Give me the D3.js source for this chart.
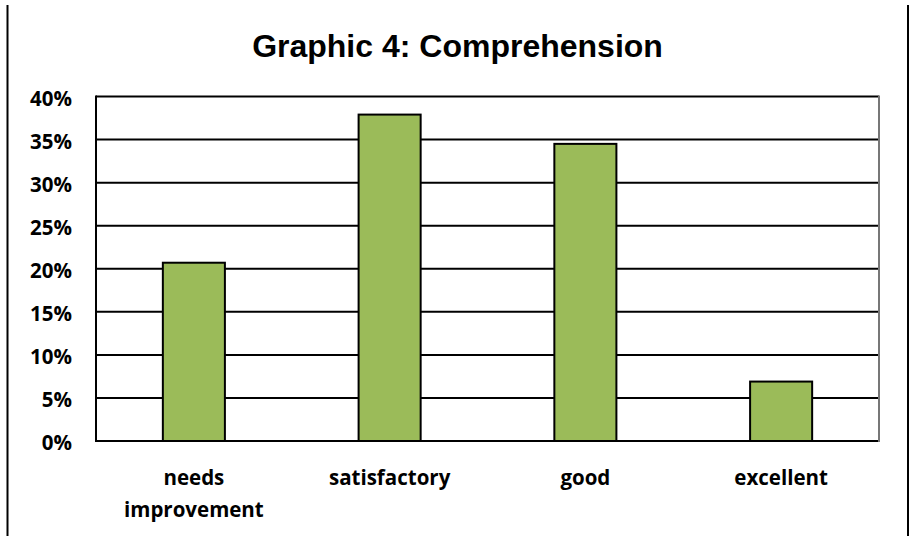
<!DOCTYPE html>
<html>
<head>
<meta charset="utf-8">
<script src="https://cdn.jsdelivr.net/npm/d3@7/dist/d3.min.js"></script>
<style>
  html, body { margin: 0; padding: 0; background: #fff; }
  svg { display: block; }
</style>
</head>
<body>
<svg id="chart" width="910" height="536"></svg>
<script>
// Share of ratings per comprehension level (%)
const categories = [["needs", "improvement"], ["satisfactory"], ["good"], ["excellent"]];
const values = [20.7, 37.9, 34.5, 6.9];
const yTicks = [0, 5, 10, 15, 20, 25, 30, 35, 40];
const title = "Graphic 4: Comprehension";

const svg = d3.select("#chart");
const W = 910, H = 536;
const plot = { left: 96, right: 879, top: 96.5, bottom: 441 };
const labelFont = "'Open Sans', Lato, sans-serif";

// frame lines on the left and right sides
svg.append("line").attr("x1", 7.5).attr("x2", 7.5).attr("y1", 5).attr("y2", H)
  .attr("stroke", "#000").attr("stroke-width", 2);
svg.append("line").attr("x1", 908).attr("x2", 908).attr("y1", 5).attr("y2", H)
  .attr("stroke", "#000").attr("stroke-width", 2);

const keys = categories.map(c => c.join(" "));
const x = d3.scaleBand().domain(keys).range([plot.left, plot.right])
  .paddingInner(0.683).paddingOuter(0.3415);
const y = d3.scaleLinear().domain([0, 40]).range([plot.bottom, plot.top]);

// horizontal gridlines
svg.append("g").selectAll("line").data(yTicks).join("line")
  .attr("x1", plot.left).attr("x2", plot.right)
  .attr("y1", d => y(d)).attr("y2", d => y(d))
  .attr("stroke", "#000").attr("stroke-width", 2);

// plot area edges
svg.append("line").attr("x1", plot.left).attr("x2", plot.left)
  .attr("y1", plot.top - 1).attr("y2", plot.bottom + 1)
  .attr("stroke", "#000").attr("stroke-width", 2);
svg.append("line").attr("x1", plot.right).attr("x2", plot.right)
  .attr("y1", plot.top - 1).attr("y2", plot.bottom + 1)
  .attr("stroke", "#777").attr("stroke-width", 2);

// bars
svg.append("g").selectAll("rect").data(values).join("rect")
  .attr("x", (d, i) => x(keys[i]))
  .attr("y", d => y(d))
  .attr("width", x.bandwidth())
  .attr("height", d => y(0) - y(d))
  .attr("fill", "#9bbb59")
  .attr("stroke", "#000").attr("stroke-width", 2);

// y axis labels
svg.append("g").selectAll("text").data(yTicks).join("text")
  .attr("x", 72).attr("y", d => y(d) + 9)
  .attr("text-anchor", "end")
  .style("font-family", labelFont).style("font-weight", "bold").style("font-size", "20.5px")
  .text(d => d + "%");

// category labels
const cat = svg.append("g").selectAll("text").data(categories).join("text")
  .attr("text-anchor", "middle")
  .style("font-family", labelFont).style("font-weight", "bold").style("font-size", "20.5px")
  .attr("transform", (d, i) => `translate(${x(keys[i]) + x.bandwidth() / 2},485)`);
cat.selectAll("tspan").data(d => d).join("tspan")
  .attr("x", 0).attr("dy", (d, i) => i === 0 ? 0 : 32)
  .text(d => d);

// title
svg.append("text").attr("x", 457.5).attr("y", 57)
  .attr("text-anchor", "middle")
  .style("font-family", "'Liberation Sans', Arial, sans-serif")
  .style("font-weight", "bold").style("font-size", "32px")
  .text(title);
</script>
</body>
</html>
